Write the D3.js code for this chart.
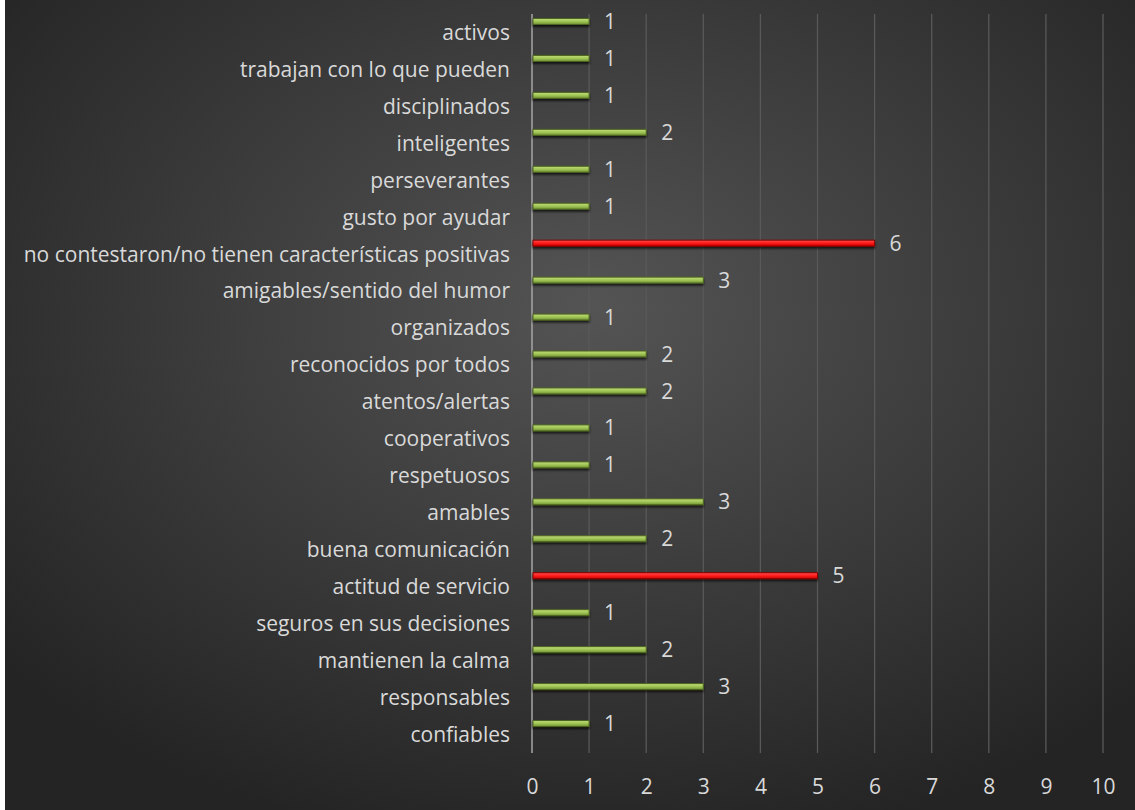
<!DOCTYPE html>
<html><head><meta charset="utf-8">
<script src="https://cdn.jsdelivr.net/npm/d3@7"></script>
<style>html,body{margin:0;padding:0;background:#fff;}svg{display:block;}</style>
</head><body>
<svg id="c" width="1135" height="810"></svg>
<script>
const categories = ["activos","trabajan con lo que pueden","disciplinados","inteligentes","perseverantes","gusto por ayudar","no contestaron/no tienen características positivas","amigables/sentido del humor","organizados","reconocidos por todos","atentos/alertas","cooperativos","respetuosos","amables","buena comunicación","actitud de servicio","seguros en sus decisiones","mantienen la calma","responsables","confiables"];
const values = [1,1,1,2,1,1,6,3,1,2,2,1,1,3,2,5,1,2,3,1];
const highlighted = [false,false,false,false,false,false,true,false,false,false,false,false,false,false,false,true,false,false,false,false];
const xTicks = [0,1,2,3,4,5,6,7,8,9,10];

const svg = d3.select("#c");
const W = 1135, H = 810;
const defs = svg.append("defs");
const bg = defs.append("radialGradient").attr("id","bg").attr("cx","52%").attr("cy","38%").attr("r","68%");
bg.append("stop").attr("offset","0%").attr("stop-color","#545454");
bg.append("stop").attr("offset","100%").attr("stop-color","#242424");
const gG = defs.append("linearGradient").attr("id","gG").attr("x1",0).attr("y1",0).attr("x2",0).attr("y2",1);
gG.append("stop").attr("offset","0%").attr("stop-color","#c3e07a");
gG.append("stop").attr("offset","55%").attr("stop-color","#9cc152");
gG.append("stop").attr("offset","100%").attr("stop-color","#6f8f33");
const gR = defs.append("linearGradient").attr("id","gR").attr("x1",0).attr("y1",0).attr("x2",0).attr("y2",1);
gR.append("stop").attr("offset","0%").attr("stop-color","#ff5050");
gR.append("stop").attr("offset","50%").attr("stop-color","#ff1c1c");
gR.append("stop").attr("offset","100%").attr("stop-color","#c80000");
const sh = defs.append("filter").attr("id","sh").attr("x","-5%").attr("y","-100%").attr("width","110%").attr("height","400%");
sh.append("feDropShadow").attr("dx",0).attr("dy",2).attr("stdDeviation",1.2).attr("flood-color","#000").attr("flood-opacity",0.7);

svg.append("rect").attr("x",5).attr("y",0).attr("width",W-5).attr("height",H).attr("fill","url(#bg)");

const x = d3.scaleLinear().domain([0,10]).range([532,1103]);
const y = d3.scaleBand().domain(categories).range([14,753]);

svg.append("g").selectAll("line").data(xTicks.filter(d=>d>0)).join("line")
  .attr("x1",d=>x(d)).attr("x2",d=>x(d)).attr("y1",14).attr("y2",753)
  .attr("stroke","#595959").attr("stroke-width",1.3);
svg.append("line").attr("x1",x(0)).attr("x2",x(0)).attr("y1",14).attr("y2",753)
  .attr("stroke","#a6a6a6").attr("stroke-width",1.5);

const font = "'Open Sans', sans-serif";
const fs = "21px";
const xa = d3.axisBottom(x).tickValues(xTicks).tickSize(0).tickPadding(0);
const gx = svg.append("g").attr("transform","translate(0,779)").call(xa);
gx.select(".domain").remove();
gx.selectAll("text").attr("fill","#d9d9d9").attr("font-size",fs).attr("font-family",font);

const ya = d3.axisLeft(y).tickSize(0).tickPadding(0);
const gy = svg.append("g").attr("transform","translate(510,0)").call(ya);
gy.select(".domain").remove();
gy.selectAll("text").attr("fill","#d9d9d9").attr("font-size",fs).attr("font-family",font).attr("dy","0.35em");

const bh = 6, off = -11;
svg.append("g").selectAll("rect").data(categories).join("rect")
  .attr("x",x(0)+1)
  .attr("y",(d)=>y(d)+y.bandwidth()/2+off-bh/2)
  .attr("width",(d,i)=>x(values[i])-x(0)-1)
  .attr("height",bh)
  .attr("fill",(d,i)=>highlighted[i]?"url(#gR)":"url(#gG)")
  .attr("stroke",(d,i)=>highlighted[i]?"#8a0000":"#4d6420")
  .attr("stroke-width",1)
  .attr("filter","url(#sh)");

svg.append("g").selectAll("text").data(categories).join("text")
  .attr("x",(d,i)=>x(values[i])+15)
  .attr("y",(d)=>y(d)+y.bandwidth()/2+off)
  .attr("dy","0.36em")
  .attr("fill","#d9d9d9").attr("font-size",fs).attr("font-family",font)
  .text((d,i)=>values[i]);
</script>
</body></html>
